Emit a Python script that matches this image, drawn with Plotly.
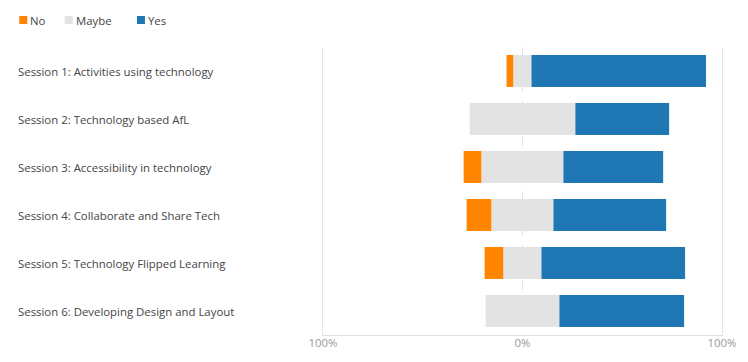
import plotly.graph_objects as go

categories = [
    "Session 1: Activities using technology",
    "Session 2: Technology based AfL",
    "Session 3: Accessibility in technology",
    "Session 4: Collaborate and Share Tech",
    "Session 5: Technology Flipped Learning",
    "Session 6: Developing Design and Layout",
]
no_vals = [3.5, 0.0, 9.0, 12.5, 9.5, 0.0]
maybe_vals = [9.0, 53.0, 41.0, 31.0, 19.0, 37.0]
yes_vals = [87.5, 47.0, 50.0, 56.5, 72.0, 62.5]

series_names = ["No", "Maybe", "Yes"]
tick_vals = [-100, 0, 100]
tick_text = ["100%", "0%", "100%"]

C_NO = "#ff8500"
C_MAYBE = "#e3e3e3"
C_YES = "#1f77b4"
colors = [C_NO, C_MAYBE, C_YES]
FONT = "Open Sans"
FS = 11.4

# page has an 8px body margin; figure drawn at page offset (8, 8)
OFF = 8
W, H = 748 - OFF, 362 - OFF
# plot area in page pixels: x 322.5..722.5, y 47..335
L, R, T, B = 322.5 - OFF, 748 - 722.5, 47 - OFF, 362 - 335
PW, PH = W - L - R, H - T - B


def px_x(p):
    return (p - OFF - L) / PW


def px_y(p):
    return 1 - (p - OFF - T) / PH


no_base = [-(m / 2 + n) for m, n in zip(maybe_vals, no_vals)]
maybe_base = [-m / 2 for m in maybe_vals]
yes_base = [m / 2 for m in maybe_vals]

fig = go.Figure()
for vals, base, nm, col in [(no_vals, no_base, "No", C_NO),
                            (maybe_vals, maybe_base, "Maybe", C_MAYBE),
                            (yes_vals, yes_base, "Yes", C_YES)]:
    fig.add_trace(go.Bar(y=categories, x=vals, base=base, orientation="h",
                         marker=dict(color=col, line=dict(width=0)), width=0.667,
                         showlegend=False, name=nm))

for cat in categories:
    fig.add_annotation(text=cat, x=px_x(15), xref="paper", y=cat, yref="y",
                       xanchor="left", yanchor="middle", showarrow=False,
                       font=dict(family=FONT, size=FS, color="#444444"))

# legend (squares + labels)
legend_sq_x = [18, 63.5, 136]
for nm, col, sx in zip(series_names, colors, legend_sq_x):
    fig.add_shape(type="rect", xref="paper", yref="paper",
                  x0=px_x(sx), x1=px_x(sx + 8), y0=px_y(24), y1=px_y(16),
                  fillcolor=col, line=dict(width=0))
    fig.add_annotation(text=nm, x=px_x(sx + 9), xref="paper", y=px_y(20), yref="paper",
                       xanchor="left", yanchor="middle", showarrow=False,
                       font=dict(family=FONT, size=FS, color="#444444"))

fig.update_layout(
    width=W, height=H,
    margin=dict(l=L, r=R, t=T, b=B, autoexpand=False),
    paper_bgcolor="white", plot_bgcolor="white",
    barmode="overlay",
    showlegend=False,
    font=dict(family=FONT, size=FS, color="#444444"),
    xaxis=dict(range=[-100, 100], tickvals=tick_vals, ticktext=tick_text,
               showgrid=True, gridcolor="#e3e3e3", griddash="dash", gridwidth=1,
               zeroline=False, showline=True, linecolor="#e0e0e0", linewidth=1,
               tickfont=dict(family=FONT, size=FS, color="#999999"), ticks="",
               ticklabelstandoff=-3,
               automargin=False, fixedrange=True),
    yaxis=dict(autorange="reversed", showticklabels=False, showgrid=False,
               zeroline=False, showline=True, mirror=True, linecolor="#e6e6e6",
               ticks="", automargin=False, fixedrange=True),
)

fig.write_html("out.html")
